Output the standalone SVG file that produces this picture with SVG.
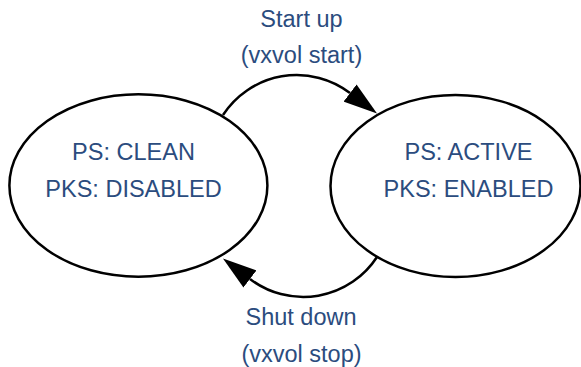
<svg xmlns="http://www.w3.org/2000/svg" width="581" height="367" viewBox="0 0 581 367">
<style>
.node ellipse{fill:#ffffff;stroke:#000000;stroke-width:2.5}
.lbl{font-family:"Liberation Sans",Arial,sans-serif;font-size:23.5px;fill:#2b4c7e;text-anchor:middle}
.edge{fill:none;stroke:#000000;stroke-width:2.5}
</style>
<defs>
<marker id="arrow" markerUnits="userSpaceOnUse" markerWidth="34" markerHeight="22" viewBox="0 0 33 21" refX="0" refY="10.5" orient="auto">
<path d="M0,0 L33,10.5 L0,21 z" fill="#000000"/>
</marker>
</defs>
<rect width="581" height="367" fill="#ffffff"/>
<g id="node-clean" class="node">
<ellipse cx="138.4" cy="185.5" rx="129" ry="91.2"/>
<text class="lbl" x="133.5" y="160">PS: CLEAN</text>
<text class="lbl" x="133.5" y="197">PKS: DISABLED</text>
</g>
<g id="node-active" class="node">
<ellipse cx="455.5" cy="186" rx="125" ry="91"/>
<text class="lbl" x="468.5" y="160">PS: ACTIVE</text>
<text class="lbl" x="468.5" y="197">PKS: ENABLED</text>
</g>
<g id="connectors">
<path class="edge" d="M223,115 A88,88 0 0,1 350,93" marker-end="url(#arrow)"/>
<path class="edge" d="M377,257 A88,88 0 0,1 250,279" marker-end="url(#arrow)"/>
</g>
<g id="labels">
<text class="lbl" x="301.5" y="26.7">Start up</text>
<text class="lbl" x="301.5" y="63.3">(vxvol start)</text>
<text class="lbl" x="301" y="325">Shut down</text>
<text class="lbl" x="301.5" y="361.7">(vxvol stop)</text>
</g>
</svg>
